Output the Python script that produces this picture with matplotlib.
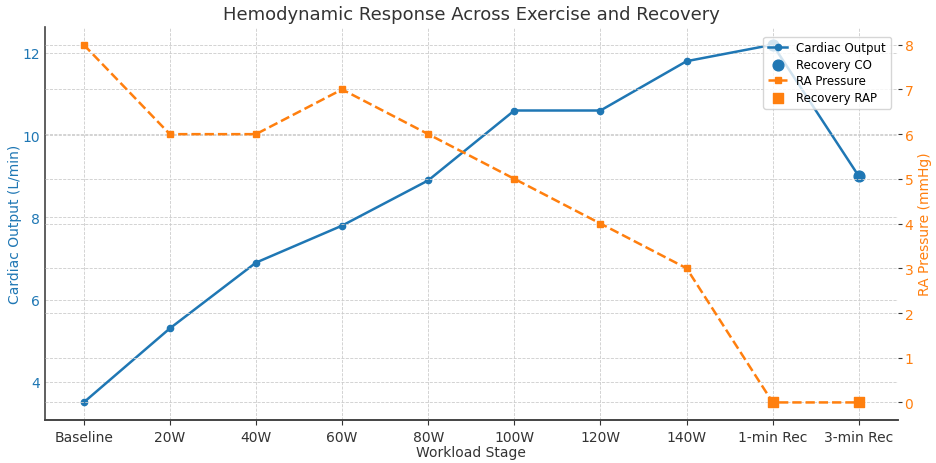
import matplotlib.pyplot as plt

# Data
stages = ['Baseline', '20W', '40W', '60W', '80W', '100W', '120W', '140W', '1-min Rec', '3-min Rec']
cardiac_output = [3.5, 5.3, 6.9, 7.8, 8.9, 10.6, 10.6, 11.8, 12.2, 9.0]
ra_pressure = [8, 6, 6, 7, 6, 5, 4, 3, 0, 0]
recovery_stages = ['1-min Rec', '3-min Rec']
recovery_co = [12.2, 9.0]
recovery_rap = [0, 0]

fig, ax1 = plt.subplots(figsize=(9.36, 4.64), dpi=100)
fig.subplots_adjust(left=0.048, right=0.959, bottom=0.092, top=0.94)

blue = '#1f77b4'
orange = '#ff7f0e'

l1, = ax1.plot(stages, cardiac_output, color=blue, marker='o', markersize=4.5,
               linewidth=1.8, label='Cardiac Output')
s1 = ax1.scatter(recovery_stages, recovery_co, color=blue, s=60, zorder=5, label='Recovery CO')
ax1.set_ylabel('Cardiac Output (L/min)', color=blue, fontsize=10, labelpad=0)
ax1.tick_params(axis='y', colors=blue, labelsize=10, length=0)
ax1.tick_params(axis='x', labelsize=10, colors='#333333')
ax1.set_xlabel('Workload Stage', fontsize=10, color='#333333', labelpad=1)
ax1.grid(True, linestyle='--', linewidth=0.6, color='#cccccc')

ax2 = ax1.twinx()
l2, = ax2.plot(stages, ra_pressure, color=orange, marker='s', markersize=4.5,
               linewidth=1.8, linestyle='--', label='RA Pressure')
s2 = ax2.scatter(recovery_stages, recovery_rap, color=orange, marker='s', s=60, zorder=5,
                 label='Recovery RAP')
ax2.set_ylabel('RA Pressure (mmHg)', color=orange, fontsize=10, labelpad=3)
ax2.tick_params(axis='y', labelcolor=orange, labelsize=10, color='#333333', length=3, pad=2)
ax2.grid(True, linestyle='--', linewidth=0.6, color='#cccccc')

for ax in (ax1, ax2):
    ax.spines['top'].set_visible(False)
    ax.spines['right'].set_visible(False)
    ax.spines['left'].set_color('#444444')
    ax.spines['bottom'].set_color('#444444')
    ax.spines['left'].set_linewidth(1.2)
    ax.spines['bottom'].set_linewidth(1.2)
ax2.spines['left'].set_visible(False)

ax1.set_title('Hemodynamic Response Across Exercise and Recovery', fontsize=13, color='#333333')

ax2.legend([l1, s1, l2, s2], ['Cardiac Output', 'Recovery CO', 'RA Pressure', 'Recovery RAP'],
           loc='upper right', fontsize=8.5, framealpha=0.8, borderpad=0.4,
           labelspacing=0.3, handlelength=1.6, bbox_to_anchor=(0.999, 0.99))

plt.savefig('out.png')
